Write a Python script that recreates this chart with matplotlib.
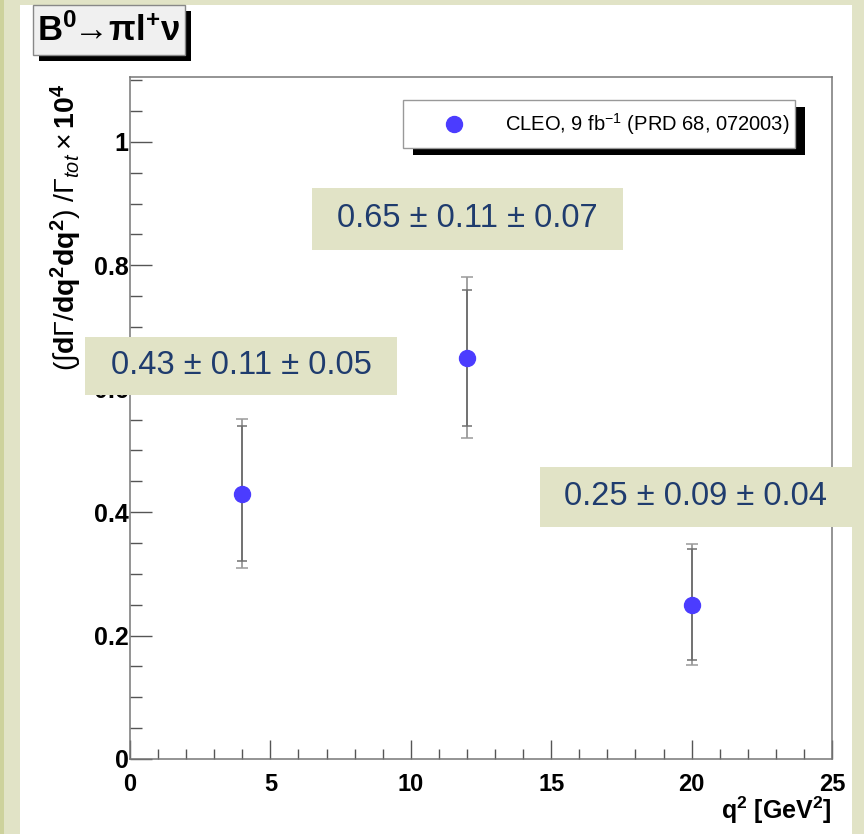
import matplotlib
matplotlib.use('Agg')
import matplotlib.pyplot as plt
import matplotlib.patheffects as pe
from matplotlib.patches import Rectangle
from matplotlib.ticker import MultipleLocator
import numpy as np

# CLEO B0 -> pi l nu partial branching fractions in q2 bins
q2 = [4, 12, 20]
rate = [0.43, 0.65, 0.25]
stat = [0.11, 0.11, 0.09]
syst = [0.05, 0.07, 0.04]
total = np.sqrt(np.array(stat)**2 + np.array(syst)**2)
box_text = [f'{r:.2f} ± {s:.2f} ± {y:.2f}' for r, s, y in zip(rate, stat, syst)]

plt.rcParams['font.family'] = ['Liberation Sans', 'DejaVu Sans']
plt.rcParams['mathtext.fontset'] = 'custom'
plt.rcParams['mathtext.rm'] = 'Liberation Sans'
plt.rcParams['mathtext.it'] = 'Liberation Sans:italic'
plt.rcParams['mathtext.bf'] = 'Liberation Sans:bold'

W, H = 864, 834
fx = lambda x: x / W
fy = lambda y: 1 - y / H

frame_col = '#e1e3c6'
fig = plt.figure(figsize=(W / 100, H / 100), dpi=100, facecolor='white')

# pale frame around the canvas
fig.add_artist(Rectangle((0, 0), fx(20), 1, transform=fig.transFigure, fc=frame_col, ec='none', zorder=-2))
fig.add_artist(Rectangle((0, 0), fx(4), 1, transform=fig.transFigure, fc='#cdd29c', ec='none', zorder=-1))
fig.add_artist(Rectangle((0, fy(5)), 1, 5 / H, transform=fig.transFigure, fc=frame_col, ec='none', zorder=-2))
fig.add_artist(Rectangle((fx(852), 0), 1, 1, transform=fig.transFigure, fc=frame_col, ec='none', zorder=-2))

ax = fig.add_axes([fx(130), fy(759), (832 - 130) / W, (759 - 77) / H])
ax.set_xlim(0, 25)
ax.set_ylim(0, 1.105)

ax.errorbar(q2, rate, yerr=total, fmt='none', ecolor='#9a9a9a', elinewidth=1.3, capsize=4, capthick=1.1, zorder=2)
ax.errorbar(q2, rate, yerr=stat, fmt='none', ecolor='#707070', elinewidth=1.3, capsize=3.5, capthick=1.1, zorder=2)
pts, = ax.plot(q2, rate, 'o', color='#4b3cff', ms=11.5, mec='#4b3cff', zorder=3,
               label=r'CLEO, 9 fb$^{-1}$ (PRD 68, 072003)')

ax.xaxis.set_major_locator(MultipleLocator(5))
ax.xaxis.set_minor_locator(MultipleLocator(1))
ax.yaxis.set_major_locator(MultipleLocator(0.2))
ax.yaxis.set_minor_locator(MultipleLocator(0.05))
ax.xaxis.set_major_formatter(plt.FuncFormatter(lambda v, p: f'{v:g}'))
ax.yaxis.set_major_formatter(plt.FuncFormatter(lambda v, p: f'{v:g}'))
ax.tick_params(which='both', direction='in', top=False, right=False, colors='#555', labelcolor='black')
ax.tick_params(axis='x', which='major', length=14, width=1, pad=10, labelsize=17)
ax.tick_params(axis='x', which='minor', length=7, width=1)
ax.tick_params(axis='y', which='major', length=16, width=1, pad=1, labelsize=18)
ax.tick_params(axis='y', which='minor', length=8.5, width=1)
for lab in ax.get_xticklabels() + ax.get_yticklabels():
    lab.set_fontweight('bold')
for sp in ax.spines.values():
    sp.set_color('#777')
    sp.set_linewidth(1.1)

ax.set_xlabel(r'$\mathbf{q^2\ [GeV^2]}$', fontsize=18, loc='right')
ax.xaxis.set_label_coords(1.0, -0.052)

fig.text(fx(66), fy(84), r'$(\int\mathbf{d}\Gamma/\mathbf{dq^2dq^2})\ /\Gamma_{tot}\times\mathbf{10^4}$',
         rotation=90, ha='center', va='top', fontsize=20.5)

leg = ax.legend(handles=[pts], loc='lower left', bbox_to_anchor=((403 - 130) / 702, (759 - 148) / 682, (795 - 403) / 702, 0.064),
                mode='expand', borderaxespad=0, fancybox=False, framealpha=1, edgecolor='#999',
                fontsize=14.5, handlelength=4.0, handletextpad=0.5, borderpad=0.55, numpoints=1)
leg.get_frame().set_linewidth(1)
leg.get_frame().set_path_effects([pe.SimplePatchShadow(offset=(7, -5), shadow_rgbFace='black', alpha=1), pe.Normal()])

# value boxes
boxes = [(85, 337, 397, 395), (312, 188, 623, 250), (540, 467, 852, 527)]
for (x0, y0, x1, y1), txt in zip(boxes, box_text):
    ax.add_patch(Rectangle((fx(x0), fy(y1)), (x1 - x0) / W, (y1 - y0) / H, transform=fig.transFigure,
                           fc='#e1e3c6', ec='none', clip_on=False, zorder=5))
    ax.text(fx((x0 + x1) / 2), fy((y0 + y1) / 2), txt, transform=fig.transFigure, ha='center', va='center',
            fontsize=23.5, color='#1f3c6e', zorder=6, clip_on=False)

# title box
tb = Rectangle((fx(33), fy(55)), (185 - 33) / W, 50 / H, transform=fig.transFigure, fc='#f0f0f0', ec='#888', lw=1)
tb.set_path_effects([pe.SimplePatchShadow(offset=(4, -4), shadow_rgbFace='black', alpha=1), pe.Normal()])
fig.add_artist(tb)
fig.text(fx(109), fy(31), r'$\mathbf{B^0\!\!\rightarrow\!\pi l^{+}\nu}$', ha='center', va='center', fontsize=25)

fig.savefig('out.png', dpi=100, facecolor=fig.get_facecolor())
